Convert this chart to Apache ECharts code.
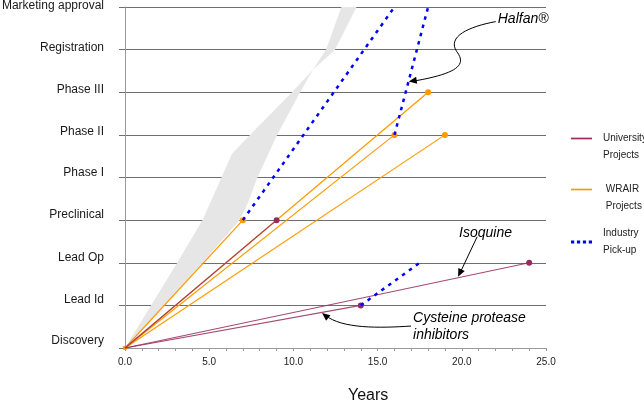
<!DOCTYPE html>
<html><head><meta charset="utf-8">
<script src="https://cdn.jsdelivr.net/npm/echarts@6/dist/echarts.min.js"></script>
<style>html,body{margin:0;padding:0;background:#fff}#c{width:644px;height:401px}</style>
</head><body><div id="c"></div>
<script>
// ---- data ----
const stages = ['Discovery','Lead Id','Lead Op','Preclinical','Phase I','Phase II','Phase III','Registration','Marketing approval'];
const universityProjects = [
  [[0,0],[9,3]],
  [[0,0],[14,1]],
  [[0,0],[24,2]]
];
const wrairProjects = [
  [[0,0],[7,3]],
  [[0,0],[18,6]],
  [[0,0],[16,5]],
  [[0,0],[19,5]]
];
const industryPickup = [
  [[7,3],[16,8]],
  [[16,5],[18,8]],
  [[14,1],[17.5,2]]
];
// shaded industry range: left and right boundary (years, stage)
const bandLeftEdge = [[0,0],[3.1,2],[4.6,3],[6.35,4.55],[7.42,5],[9.92,6],[11.16,6.53],[12.47,7],[13.75,8]];
const bandRightEdge = [[0,0],[2.3,1],[4.6,2],[6.8,3],[7.3,3.4],[7.86,4],[9.03,5],[10.4,6],[11.16,6.53],[11.94,7],[12.85,8]];
// annotations: label, arrow tip in data units
const annotations = [
  {text:'Halfan®', tip:[16.85,6.25]},
  {text:'Isoquine', tip:[19.78,1.67]},
  {text:'Cysteine protease\ninhibitors', tip:[11.7,0.82]}
];

const FONT = 'Liberation Sans, Arial, sans-serif';
const C_UNIV = '#972C5C', C_WRAIR = '#FF9900', C_IND = '#0000FF', GRIDC = '#6e6e6e';
// label box heights (style only): label sits slightly above its gridline
const labelBoxHeights = [14,12,10,10,10,6,6,4,2];
const yRich = {};
labelBoxHeights.forEach((h,i)=>{ yRich['s'+i] = {fontFamily:FONT, fontSize:12, color:'#1a1a1a', lineHeight:h}; });

const bandPolygon = bandLeftEdge.concat(bandRightEdge.slice().reverse());

const series = [];
series.push({
  type:'custom', name:'band', z:1, silent:true, clip:true,
  data: bandPolygon,
  encode:{x:0,y:1},
  renderItem(params, api){
    if (params.dataIndex !== 0) return null;
    const pts = bandPolygon.map(p => api.coord(p));
    return {type:'polygon', shape:{points:pts}, style:{fill:'#e6e6e6', stroke:null}};
  }
});
wrairProjects.forEach(d => series.push({
  type:'line', name:'WRAIR Projects', data:d, z:2, color:C_WRAIR,
  lineStyle:{width:1.2, color:C_WRAIR}, symbol:'circle', showSymbol:true,
  symbolSize:(v,p)=> p.dataIndex===0 ? 4 : 6,
  itemStyle:{color:C_WRAIR}, silent:true
}));
universityProjects.forEach(d => series.push({
  type:'line', name:'University Projects', data:d, z:3, color:C_UNIV,
  lineStyle:{width:1.2, color:C_UNIV, opacity:0.85}, symbol:'circle', showSymbol:true,
  symbolSize:(v,p)=> p.dataIndex===0 ? 0 : 6,
  itemStyle:{color:C_UNIV}, silent:true
}));
industryPickup.forEach(d => series.push({
  type:'line', name:'Industry Pick-up', data:d, z:4, color:C_IND,
  lineStyle:{width:2.5, color:C_IND, type:[3.5,5]}, symbol:'none', silent:true
}));

const legendBase = {
  orient:'vertical', left:566, itemWidth:21, itemHeight:10,
  itemStyle:{borderWidth:0}, selectedMode:false,
  textStyle:{fontFamily:FONT, fontSize:10, color:'#222', lineHeight:17, padding:[0,0,0,6]}
};
const LINE_ICON = 'path://M0,0h20v1.6h-20z';
const DOT_ICON = 'path://M0,0h3v2.6h-3zM5.5,0h3v2.6h-3zM11,0h3v2.6h-3zM16.5,0h3v2.6h-3z';

const chart = echarts.init(document.getElementById('c'));
chart.setOption({
  animation:false,
  backgroundColor:'#fff',
  grid:{left:125, right:98, top:7, bottom:53, outerBoundsMode:'none', containLabel:false},
  title:{text:'Years', left:343, top:383, textStyle:{fontFamily:FONT, fontSize:16, fontWeight:'normal', color:'#111'}},
  legend:[
    Object.assign({}, legendBase, {top:108, formatter:n=>'\nUniversity\nProjects',
      data:[{name:'University Projects', icon:LINE_ICON, itemStyle:{color:C_UNIV}}]}),
    Object.assign({}, legendBase, {top:159, formatter:n=>'\n WRAIR\n Projects',
      data:[{name:'WRAIR Projects', icon:LINE_ICON, itemStyle:{color:C_WRAIR}}]}),
    Object.assign({}, legendBase, {top:220, formatter:n=>'Industry\nPick-up',
      data:[{name:'Industry Pick-up', icon:DOT_ICON, itemStyle:{color:C_IND}}]})
  ],
  xAxis:{
    type:'value', min:0, max:25, interval:5,
    axisLine:{lineStyle:{color:'#999'}},
    axisTick:{show:true, length:3, lineStyle:{color:'#999'}},
    minorTick:{show:true, splitNumber:5, length:3, lineStyle:{color:'#999'}},
    splitLine:{show:false},
    axisLabel:{formatter:v=>v.toFixed(1), margin:9, fontFamily:FONT, fontSize:10, color:'#222'}
  },
  yAxis:{
    type:'value', min:0, max:8, interval:1,
    axisLine:{show:true, lineStyle:{color:'#999'}},
    axisTick:{show:true, length:6, lineStyle:{color:GRIDC}},
    splitLine:{show:true, lineStyle:{color:GRIDC, width:1}},
    axisLabel:{formatter:v=>'{s'+v+'|'+stages[v]+'}', rich:yRich, margin:21, fontFamily:FONT, fontSize:12, color:'#1a1a1a', verticalAlign:'bottom'}
  },
  series
});

// ---- annotations (anchored at data coordinates) ----
function head(tip, from, len, hw){
  const dx = tip[0]-from[0], dy = tip[1]-from[1], L = Math.hypot(dx,dy);
  const ux = dx/L, uy = dy/L, bx = tip[0]-ux*len, by = tip[1]-uy*len;
  return {type:'polygon', shape:{points:[tip,[bx-uy*hw, by+ux*hw],[bx+uy*hw, by-ux*hw]]}, style:{fill:'#000'}};
}
const tf = 'italic 14px ' + FONT;
const g = [];
const ARROW = {stroke:'#000', lineWidth:1, fill:null};
{
  const [tx,ty] = chart.convertToPixel({gridIndex:0}, annotations[0].tip);
  const P = (a,b)=>[tx+a, ty+b];
  const s=P(87,-60), m=P(48,-30);
  g.push({type:'bezierCurve', shape:{x1:s[0],y1:s[1],cpx1:P(60,-55)[0],cpy1:P(60,-55)[1],cpx2:P(38,-45)[0],cpy2:P(38,-45)[1],x2:m[0],y2:m[1]}, style:ARROW});
  g.push({type:'bezierCurve', shape:{x1:m[0],y1:m[1],cpx1:P(58,-17)[0],cpy1:P(58,-17)[1],cpx2:P(50,-8)[0],cpy2:P(50,-8)[1],x2:tx+2,y2:ty}, style:ARROW});
  g.push(head([tx,ty], P(50,-8), 8, 3.5));
  g.push({type:'text', style:{text:annotations[0].text, x:tx+89, y:ty-62, font:tf, fill:'#000', verticalAlign:'middle'}});
}
{
  const [tx,ty] = chart.convertToPixel({gridIndex:0}, annotations[1].tip);
  g.push({type:'line', shape:{x1:tx+19,y1:ty-40,x2:tx+2,y2:ty-4}, style:ARROW});
  g.push(head([tx,ty],[tx+19,ty-40], 8, 3.5));
  g.push({type:'text', style:{text:annotations[1].text, x:tx+1, y:ty-44, font:tf, fill:'#000', verticalAlign:'middle'}});
}
{
  const [tx,ty] = chart.convertToPixel({gridIndex:0}, annotations[2].tip);
  g.push({type:'bezierCurve', shape:{x1:tx+89,y1:ty+13,cpx1:tx+58,cpy1:ty+15,cpx2:tx+20,cpy2:ty+16,x2:tx+3,y2:ty+2}, style:ARROW});
  g.push(head([tx,ty],[tx+20,ty+16], 8, 3.5));
  g.push({type:'text', style:{text:annotations[2].text, x:tx+91, y:ty-3, font:tf, fill:'#000', verticalAlign:'top', lineHeight:17}});
}
chart.setOption({graphic:{elements:g}});
</script></body></html>
